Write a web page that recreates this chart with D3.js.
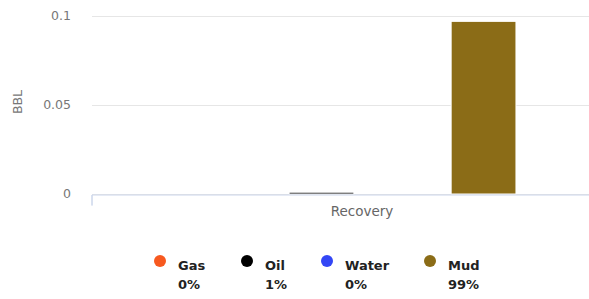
<!DOCTYPE html>
<html>
<head>
<meta charset="utf-8">
<script src="https://d3js.org/d3.v7.min.js"></script>
<style>
  body { margin: 0; background: #fff; }
  text { font-family: "DejaVu Sans", sans-serif; }
</style>
</head>
<body>
<script>
const categories = ["Recovery"]
const seriesNames = ["Gas", "Oil", "Water", "Mud"]
const seriesColors = ["#f7591f", "#000000", "#3346f5", "#8b6c17"]
const seriesValues = [0, 0.001, 0, 0.097]
const legendPercents = ["0%", "1%", "0%", "99%"]
const yTicks = [0, 0.05, 0.1]
const yTickLabels = ["0", "0.05", "0.1"]

const m = { width: 589, height: 299 }

const svg = d3.select("body").append("svg")
    .attr("width", m.width)
    .attr("height", m.height)

// plot runs past the right edge (reference is cropped)
const x0 = d3.scaleBand()
    .domain(categories)
    .range([92, 632])
    .paddingOuter(0.333)
    .paddingInner(0)

const x1 = d3.scaleBand()
    .domain(seriesNames)
    .range([0, x0.bandwidth()])
    .paddingInner(0.2)
    .paddingOuter(0.1)

const y = d3.scaleLinear()
    .domain([0, 0.1])
    .range([194, 16])

// grid lines
svg.append("g")
  .selectAll("line")
  .data(yTicks)
  .enter()
  .append("line")
    .attr("x1", 92)
    .attr("x2", m.width)
    .attr("y1", d => Math.round(y(d)) + 0.5)
    .attr("y2", d => Math.round(y(d)) + 0.5)
    .attr("stroke", "#e6e6e6")

// y tick labels
svg.append("g")
  .selectAll("text")
  .data(yTicks)
  .enter()
  .append("text")
    .attr("x", 71)
    .attr("y", d => y(d) + 4)
    .attr("text-anchor", "end")
    .attr("font-size", 12.5)
    .attr("fill", "#777")
    .text((d, i) => yTickLabels[i])

svg.append("text")
    .attr("transform", "translate(22,102) rotate(-90)")
    .attr("text-anchor", "middle")
    .attr("font-size", 12.5)
    .attr("fill", "#777")
    .text("BBL")

// bars
const rows = seriesNames.map((s, i) => ({ name: s, value: seriesValues[i], color: seriesColors[i] }))

svg.append("g")
  .selectAll("rect")
  .data(rows)
  .enter()
  .append("rect")
    .attr("x", d => x0(categories[0]) + x1(d.name))
    .attr("y", d => y(d.value))
    .attr("width", x1.bandwidth())
    .attr("height", d => y(0) - y(d.value))
    .attr("fill", d => d.color)
    .attr("stroke", "#fff")
    .attr("stroke-width", 1)

// x axis
const xAxis = d3.axisBottom(x0).tickSize(0).tickPadding(12)
const gx = svg.append("g")
    .attr("transform", "translate(0,194.5)")
    .call(xAxis)
gx.select(".domain").attr("stroke", "#ccd6eb").attr("d", "M92,0.5V11V0.5H632")
gx.selectAll("text")
    .attr("font-size", 13.5)
    .attr("fill", "#666")
    .attr("font-family", "DejaVu Sans, sans-serif")

// legend
const legendX = [160, 247, 327, 430]
const legend = svg.append("g")
  .selectAll("g")
  .data(rows)
  .enter()
  .append("g")
    .attr("transform", (d, i) => `translate(${legendX[i]},0)`)

legend.append("circle")
    .attr("cx", 0)
    .attr("cy", 261)
    .attr("r", 6)
    .attr("fill", d => d.color)

legend.append("text")
    .attr("x", 18)
    .attr("y", 270)
    .attr("font-size", 13)
    .attr("font-weight", "bold")
    .attr("fill", "#222")
    .text(d => d.name)

legend.append("text")
    .attr("x", 18)
    .attr("y", 289)
    .attr("font-size", 13)
    .attr("font-weight", "bold")
    .attr("fill", "#222")
    .text((d, i) => legendPercents[i])
</script>
</body>
</html>
